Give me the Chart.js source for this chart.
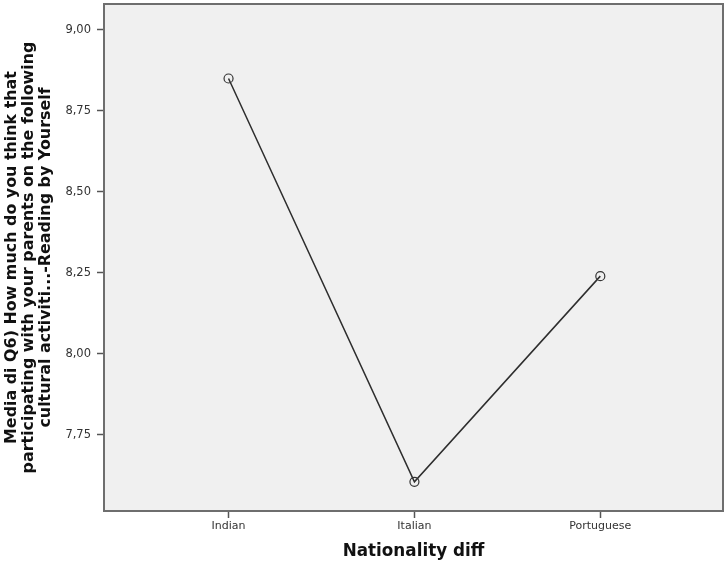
<!DOCTYPE html>
<html>
<head>
<meta charset="utf-8">
<script src="https://cdn.jsdelivr.net/npm/chart.js@4"></script>
<style>
  html, body { margin: 0; padding: 0; background: #fff; }
  #wrap { width: 726px; height: 562px; }
</style>
</head>
<body>
<div id="wrap"><canvas id="lineChart"></canvas></div>
<script>
const categories = ['Indian', 'Italian', 'Portuguese'];
const means = [8.85, 7.605, 8.24];
const yTicks = [7.75, 8.00, 8.25, 8.50, 8.75, 9.00];

const yTitle = [
    'Media di Q6) How much do you think that',
    'participating with your parents on the following',
    'cultural activiti...-Reading by Yourself'
];

// grey plot background + frame
const plotFrame = {
    id: 'plotFrame',
    beforeDraw(chart) {
        const a = chart.chartArea;
        const ctx = chart.ctx;
        ctx.save();
        ctx.fillStyle = '#f0f0f0';
        ctx.fillRect(a.left, a.top, a.right - a.left, a.bottom - a.top);
        ctx.restore();
    },
    afterDatasetsDraw(chart) {
        const a = chart.chartArea;
        const ctx = chart.ctx;
        ctx.save();
        ctx.strokeStyle = '#6e6e6e';
        ctx.lineWidth = 2;
        ctx.strokeRect(a.left, a.top, a.right - a.left, a.bottom - a.top);
        ctx.restore();
    }
};

const noPad = (s) => {
    s.paddingTop = 0; s.paddingBottom = 0;
    s.paddingLeft = 0; s.paddingRight = 0;
};

const ctx = document.getElementById('lineChart');
new Chart(ctx, {
    type: 'line',
    data: {
        datasets: [{
            data: means.map((v, i) => ({ x: i, y: v })),
            borderColor: '#2e2e2e',
            borderWidth: 1.5,
            pointRadius: 4.5,
            pointBorderWidth: 1.2,
            pointBackgroundColor: 'rgba(0,0,0,0)',
            pointBorderColor: '#333333',
            tension: 0
        }]
    },
    plugins: [plotFrame],
    options: {
        responsive: true,
        maintainAspectRatio: false,
        animation: false,
        layout: { autoPadding: false, padding: { top: 4, right: 3, left: 4, bottom: 0 } },
        plugins: {
            legend: { display: false },
            tooltip: { enabled: false }
        },
        scales: {
            x: {
                type: 'linear',
                min: -0.67,
                max: 2.66,
                afterBuildTicks: (s) => { s.ticks = categories.map((c, i) => ({ value: i })); },
                afterFit: (s) => { s.height = 51; noPad(s); },
                grid: { drawOnChartArea: false, tickLength: 7, tickColor: '#555', tickWidth: 1.5 },
                border: { display: false },
                ticks: {
                    callback: (v) => categories[v],
                    color: '#333',
                    font: { family: 'DejaVu Sans', size: 11 },
                    padding: 2,
                    maxRotation: 0
                },
                title: {
                    display: true,
                    text: 'Nationality diff',
                    color: '#111',
                    font: { family: 'DejaVu Sans', size: 16.8, weight: 'bold' },
                    padding: { top: 0, bottom: 0 }
                }
            },
            y: {
                min: 7.515,
                max: 9.08,
                afterBuildTicks: (s) => { s.ticks = yTicks.map(v => ({ value: v })); },
                afterFit: (s) => { s.width = 100; noPad(s); },
                grid: { drawOnChartArea: false, tickLength: 7, tickColor: '#555', tickWidth: 1.5 },
                border: { display: false },
                ticks: {
                    callback: (v) => v.toFixed(2).replace('.', ','),
                    color: '#333',
                    font: { family: 'DejaVu Sans', size: 11.5 },
                    padding: 6
                },
                title: {
                    display: true,
                    text: yTitle,
                    color: '#111',
                    font: { family: 'DejaVu Sans', size: 15.9, weight: 'bold', lineHeight: 1.05 },
                    padding: 0
                }
            }
        }
    }
});
</script>
</body>
</html>
